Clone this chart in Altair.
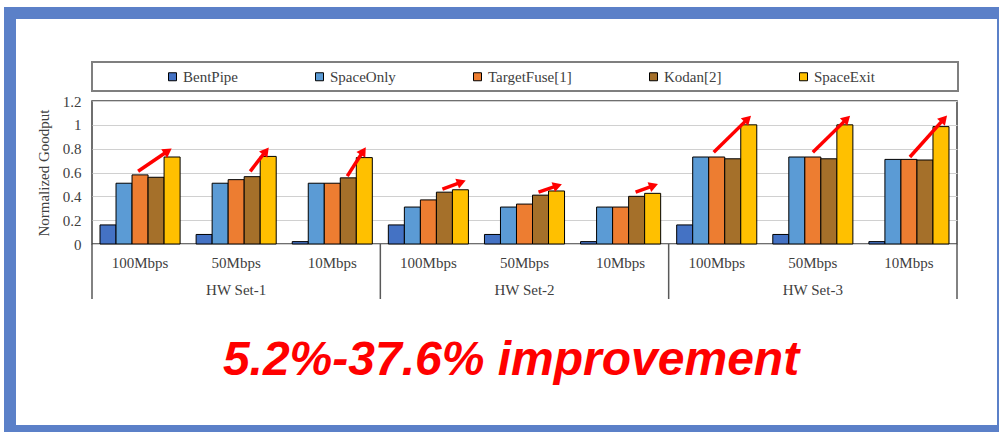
import math
import altair as alt
import pandas as pd

# ---------------- data ----------------
sets = ["HW Set-1", "HW Set-2", "HW Set-3"]
bandwidths = ["100Mbps", "50Mbps", "10Mbps"]
methods = ["BentPipe", "SpaceOnly", "TargetFuse[1]", "Kodan[2]", "SpaceExit"]
colors = ["#4472C4", "#5B9BD5", "#ED7D31", "#A5702A", "#FFC000"]

bentpipe = [0.16, 0.08, 0.02, 0.16, 0.08, 0.02, 0.16, 0.08, 0.02]
spaceonly = [0.51, 0.51, 0.51, 0.31, 0.31, 0.31, 0.73, 0.73, 0.71]
targetfuse = [0.58, 0.54, 0.51, 0.37, 0.335, 0.31, 0.73, 0.73, 0.71]
kodan = [0.56, 0.565, 0.555, 0.435, 0.41, 0.40, 0.715, 0.715, 0.705]
spaceexit = [0.73, 0.735, 0.725, 0.455, 0.445, 0.425, 1.0, 1.0, 0.985]

# improvement arrows (data coordinates: category units / goodput)
arrow_x0 = [0.48, 1.646, 2.656, 3.646, 4.646, 5.656, 6.469, 7.50, 8.51]
arrow_y0 = [0.61, 0.61, 0.57, 0.46, 0.435, 0.435, 0.77, 0.77, 0.73]
arrow_x1 = [0.79, 1.81, 2.823, 3.844, 4.844, 5.844, 6.823, 7.854, 8.865]
arrow_y1 = [0.78, 0.78, 0.78, 0.52, 0.49, 0.49, 1.05, 1.05, 1.05]

y_ticks = [0, 0.2, 0.4, 0.6, 0.8, 1.0, 1.2]

# ---------------- layout ----------------
W, H = 865, 143
PAD = {"left": 92, "top": 101, "right": 42, "bottom": 188}
series = [bentpipe, spaceonly, targetfuse, kodan, spaceexit]
nb = len(bandwidths)

rows = []
for k, (m, vals) in enumerate(zip(methods, series)):
    for i, v in enumerate(vals):
        rows.append({"method": m, "order": k, "cat": i,
                     "x0": i + (0.5 + k) / 6, "x1": i + (1.5 + k) / 6, "value": v})
bars_df = pd.DataFrame(rows)

cat_df = pd.DataFrame({"label": [b for _ in sets for b in bandwidths],
                       "xc": [i + 0.5 for i in range(len(sets) * nb)]})
grp_df = pd.DataFrame({"label": sets, "xc": [s * nb + nb / 2 for s in range(len(sets))]})
sep_df = pd.DataFrame({"xs": [s * nb for s in range(len(sets) + 1)]})

sx = W / (len(sets) * nb)
sy = H / 1.2
arr_df = pd.DataFrame({"x0": arrow_x0, "y0": arrow_y0, "x1": arrow_x1, "y1": arrow_y1})
arr_df["angle"] = [math.degrees(math.atan2((b - a) * sx, (d - c) * sy))
                   for a, b, c, d in zip(arrow_x0, arrow_x1, arrow_y0, arrow_y1)]

xscale = alt.Scale(domain=[0, len(sets) * nb], nice=False, zero=False)
yscale = alt.Scale(domain=[0, 1.2], nice=False)
SERIF = "Liberation Serif"
GRAY = "#404040"

y_axis = alt.Axis(values=y_ticks, format="~g", title="Normalized Goodput",
                  grid=True, gridColor="#D0D0D0", gridWidth=1.2,
                  ticks=False, domain=False, labelPadding=11,
                  labelOverlap=False, labelFlush=False,
                  labelFont=SERIF, labelFontSize=15, labelColor=GRAY,
                  titleFont=SERIF, titleFontSize=15, titleColor=GRAY,
                  titleFontWeight="normal", titlePadding=11)

# blue outer frame
frame = alt.Chart(pd.DataFrame({"d": [0]})).mark_rect(
    fillOpacity=0, stroke="#5B80C8", strokeWidth=12
).encode(x=alt.value(10 - PAD["left"]), x2=alt.value(1003 - PAD["left"]),
         y=alt.value(13 - PAD["top"]), y2=alt.value(431 - PAD["top"]))

# legend box
legbox = alt.Chart(pd.DataFrame({"d": [0]})).mark_rect(
    fill="white", stroke="#7F7F7F", strokeWidth=2
).encode(x=alt.value(0), x2=alt.value(W + 1),
         y=alt.value(62 - PAD["top"]), y2=alt.value(91 - PAD["top"]))

bars = alt.Chart(bars_df).mark_rect(stroke="black", strokeWidth=1).encode(
    x=alt.X("x0:Q", scale=xscale, axis=None),
    x2="x1:Q",
    y=alt.Y("value:Q", scale=yscale, axis=y_axis),
    y2=alt.datum(0),
    color=alt.Color("method:N", sort=methods,
                    scale=alt.Scale(domain=methods, range=colors),
                    legend=alt.Legend(orient="none", legendX=73, legendY=-32,
                                      direction="horizontal", columns=5,
                                      columnPadding=74, title=None,
                                      symbolType="square", symbolSize=64,
                                      symbolStrokeColor="black", symbolStrokeWidth=1,
                                      labelFont=SERIF, labelFontSize=15,
                                      labelFontWeight="normal",
                                      labelColor=GRAY, labelOffset=3, padding=0)),
    order="order:Q",
)

shaft = alt.Chart(arr_df).mark_rule(color="#FF0000", strokeWidth=3.5).encode(
    x=alt.X("x0:Q", scale=xscale, axis=None), x2="x1:Q",
    y=alt.Y("y0:Q", scale=yscale, axis=y_axis), y2="y1:Q")

head = alt.Chart(arr_df).mark_point(shape="triangle-up", filled=True, size=110,
                                     color="#FF0000", opacity=1).encode(
    x=alt.X("x1:Q", scale=xscale, axis=None), y=alt.Y("y1:Q", scale=yscale, axis=y_axis),
    angle=alt.Angle("angle:Q", scale=None))

cat_text = alt.Chart(cat_df).mark_text(font=SERIF, fontSize=15, color=GRAY,
                                        baseline="middle").encode(
    x=alt.X("xc:Q", scale=xscale, axis=None), y=alt.value(263 - PAD["top"]), text="label:N")

grp_text = alt.Chart(grp_df).mark_text(font=SERIF, fontSize=15, color=GRAY,
                                        baseline="middle").encode(
    x=alt.X("xc:Q", scale=xscale, axis=None), y=alt.value(290 - PAD["top"]), text="label:N")

seps = alt.Chart(sep_df).mark_rule(color="#595959", strokeWidth=1.5).encode(
    x=alt.X("xs:Q", scale=xscale, axis=None), y=alt.value(H), y2=alt.value(299 - PAD["top"]))

big = alt.Chart(pd.DataFrame({"t": ["5.2%-37.6% improvement"]})).mark_text(
    font="Liberation Sans", fontSize=48, fontWeight="bold", fontStyle="italic",
    color="#FF0000", align="center", baseline="alphabetic"
).encode(x=alt.value(511 - PAD["left"]), y=alt.value(375 - PAD["top"]), text="t:N")

chart = alt.layer(frame, legbox, bars, shaft, head, cat_text, grp_text, seps, big).properties(
    width=W, height=H, padding=PAD, autosize=alt.AutoSizeParams(type="none"),
    background="white"
).configure(font=SERIF
).configure_view(stroke="#404040", strokeWidth=1.5
).configure_legend(labelFont=SERIF, labelFontSize=15, labelColor=GRAY)

chart.save("out.html", embed_options={"renderer": "svg", "actions": False})
